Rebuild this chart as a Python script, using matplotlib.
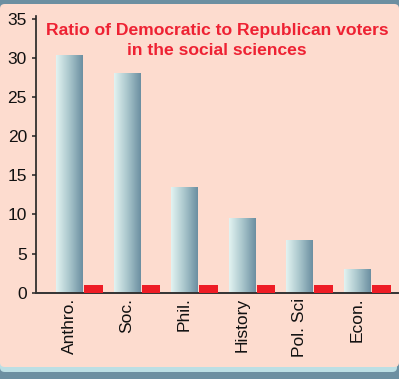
import numpy as np
import matplotlib
matplotlib.use("Agg")
from matplotlib import pyplot as plt
from matplotlib.patches import FancyBboxPatch
from matplotlib.colors import LinearSegmentedColormap

# ratio data
fields = ["Anthro.", "Soc.", "Phil.", "History", "Pol. Sci", "Econ."]
dem_rep_ratio = [30.3, 28.0, 13.5, 9.5, 6.7, 3.0]
parity = [1, 1, 1, 1, 1, 1]
y_ticks = [0, 5, 10, 15, 20, 25, 30, 35]

W, H = 399, 379
plt.rcParams['font.family'] = ['Liberation Sans', 'DejaVu Sans']

fig = plt.figure(figsize=(W / 100, H / 100), dpi=100)
fig.patch.set_facecolor("#6c8fa1")

def px(x0, y0, x1, y1):
    # pixel box (from top-left) -> figure fraction
    return x0 / W, 1 - y1 / H, (x1 - x0) / W, (y1 - y0) / H

# light blue shadow under panel, then peach panel (both behind the axes)
sx, sy, sw, sh = px(0, 8, 397, 372)
fig.patches.append(FancyBboxPatch((sx, sy), sw, sh, boxstyle="round,pad=0,rounding_size=0.012",
                                  transform=fig.transFigure, facecolor="#bcdfe4", edgecolor="none", zorder=-3))
bx, by, bw, bh = px(0, 4, 399, 367)
fig.patches.append(FancyBboxPatch((bx, by), bw, bh, boxstyle="round,pad=0,rounding_size=0.012",
                                  transform=fig.transFigure, facecolor="#fddccf", edgecolor="none", zorder=-2))

ax = fig.add_axes(px(36, 16.3, 398, 292.7))
ax.set_facecolor("none")

x = np.arange(len(fields))
blue_w = 0.463
red_w = 0.324
red_off = 0.417

bars = ax.bar(x, dem_rep_ratio, width=blue_w, color="none", edgecolor="none")
ax.bar(x + red_off, parity, width=red_w, color="#ee1c25", edgecolor="none", zorder=3)

grad = LinearSegmentedColormap.from_list("steel", ["#e2f3f1", "#a9c6cc", "#6c8fa1"])
g = np.linspace(0, 1, 64).reshape(1, -1)
for b in bars:
    x0 = b.get_x()
    ax.imshow(g, cmap=grad, aspect="auto", extent=[x0, x0 + b.get_width(), 0, b.get_height()],
              zorder=2, interpolation="bilinear")

ax.set_xlim(-0.578, 5.707)
ax.set_ylim(0, 35.3)
ax.set_yticks(y_ticks)
ax.set_xticks(x)
ax.set_xticklabels(fields, rotation=90, fontsize=12.5, color="#111111")
ax.tick_params(axis="x", length=0, pad=3.5)
ax.tick_params(axis="y", length=3, width=1.1, direction="out", pad=3.5, labelsize=12.5,
               color="#222222", labelcolor="#111111")

for s in ["top", "right"]:
    ax.spines[s].set_visible(False)
ax.spines["left"].set_color("#222222")
ax.spines["left"].set_linewidth(1.2)
ax.spines["bottom"].set_color("#333333")
ax.spines["bottom"].set_linewidth(1.4)

ax.text(0.5, 0.974, "Ratio of Democratic to Republican voters\nin the social sciences",
        transform=ax.transAxes, ha="center", va="top", fontsize=12.6, fontweight="bold",
        color="#ee2233", linespacing=1.35, zorder=5)

fig.savefig("out.png", dpi=100, facecolor=fig.get_facecolor())
